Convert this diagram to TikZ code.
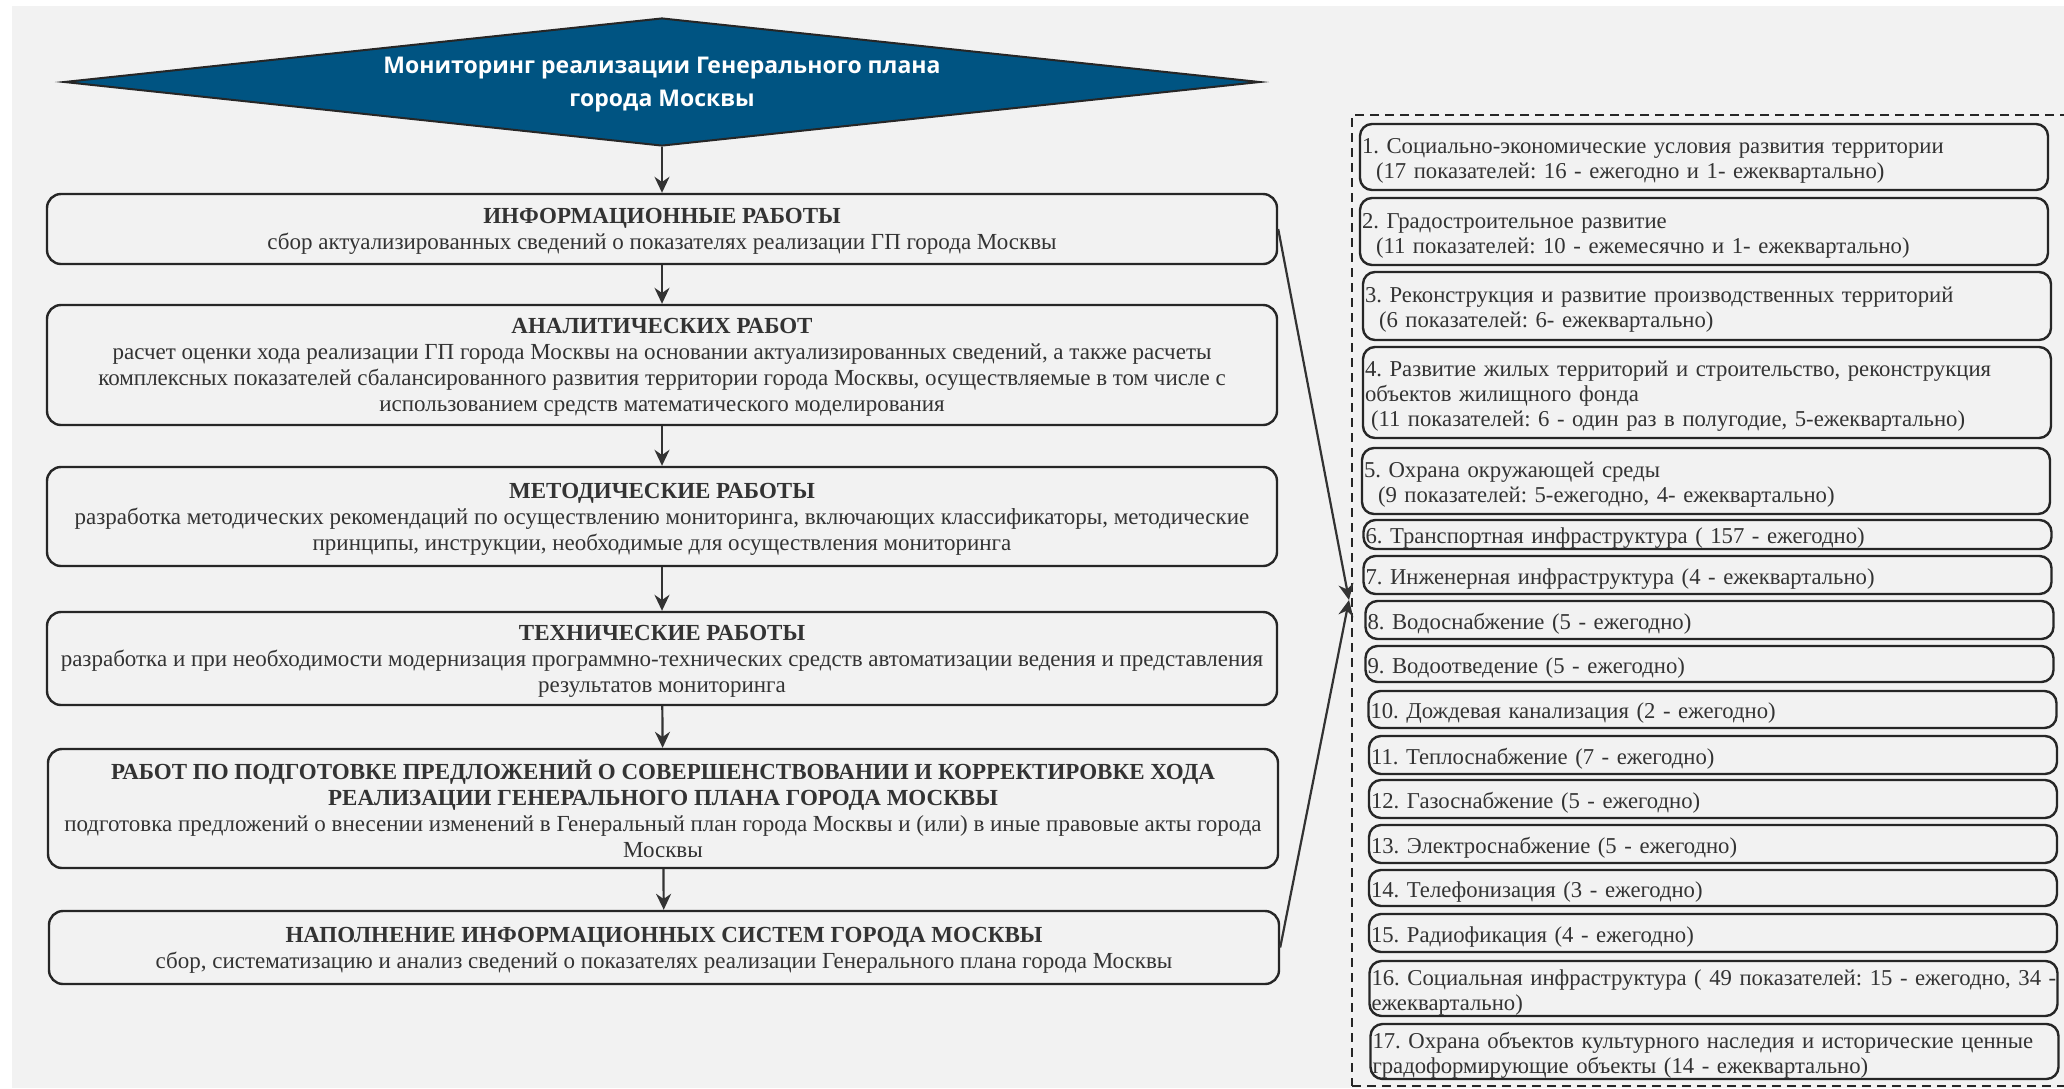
\documentclass[tikz,border=0pt]{standalone}
\usepackage{fontspec}
\setmainfont{Liberation Serif}
\newfontfamily\headfont{Open Sans}
\usetikzlibrary{shapes.geometric,arrows.meta}
\definecolor{paper}{RGB}{242,242,242}
\definecolor{ink}{RGB}{51,51,51}
\definecolor{edge}{RGB}{38,38,38}
\definecolor{headblue}{RGB}{0,84,130}
\frenchspacing

\begin{document}
\begin{tikzpicture}[x=1pt, y=-1pt,
    headshape/.style={diamond, aspect=9, draw=edge, line width=2pt, fill=headblue, text=white, align=center, minimum width=1196pt, minimum height=128pt, inner sep=0pt, text depth=-4pt, font=\headfont\bfseries\fontsize{23}{33}\selectfont},
    workbox/.style={rectangle, draw=edge, line width=2.4pt, fill=paper, rounded corners=14pt, text=ink, align=center, minimum width=1230pt, minimum height=#1, inner sep=0pt, text depth=-3pt, font=\fontsize{23}{26}\selectfont},
    itembox/.style={rectangle, draw=edge, line width=2.4pt, fill=paper, rounded corners=12pt, text=ink, align=left, text width=684pt, minimum height=#1, inner xsep=2pt, inner ysep=0pt, text height=23pt, font=\fontsize{22.7}{25}\selectfont},
    groupbox/.style={draw=edge, line width=2pt, dash pattern=on 9pt off 6pt, minimum width=728pt, minimum height=971pt},
    flow/.style={-{Stealth[length=16pt, width=15pt]}, draw=ink, line width=2.2pt}
]
    \clip (0,0) rectangle (2064,1088);
    \fill[white] (0,0) rectangle (2064,1088);
    \fill[paper] (12,6) rectangle (2064,1088);

    % left column
    \node[headshape] (mon) at (662,82) {Мониторинг реализации Генерального плана\\города Москвы};
    \node[workbox=70pt] (info) at (662,229) {\textbf{ИНФОРМАЦИОННЫЕ РАБОТЫ}\\сбор актуализированных сведений о показателях реализации ГП города Москвы};
    \node[workbox=120pt] (anal) at (662,365) {\textbf{АНАЛИТИЧЕСКИХ РАБОТ}\\расчет оценки хода реализации ГП города Москвы на основании актуализированных сведений, а также расчеты\\комплексных показателей сбалансированного развития территории города Москвы, осуществляемые в том числе с\\использованием средств математического моделирования};
    \node[workbox=99pt] (meth) at (662,516.5) {\textbf{МЕТОДИЧЕСКИЕ РАБОТЫ}\\разработка методических рекомендаций по осуществлению мониторинга, включающих классификаторы, методические\\принципы, инструкции, необходимые для осуществления мониторинга};
    \node[workbox=93pt] (tech) at (662,658.5) {\textbf{ТЕХНИЧЕСКИЕ РАБОТЫ}\\разработка и при необходимости модернизация программно-технических средств автоматизации ведения и представления\\результатов мониторинга};
    \node[workbox=119pt] (prop) at (663,808.5) {\textbf{РАБОТ ПО ПОДГОТОВКЕ ПРЕДЛОЖЕНИЙ О СОВЕРШЕНСТВОВАНИИ И КОРРЕКТИРОВКЕ ХОДА}\\\textbf{РЕАЛИЗАЦИИ ГЕНЕРАЛЬНОГО ПЛАНА ГОРОДА МОСКВЫ}\\подготовка предложений о внесении изменений в Генеральный план города Москвы и (или) в иные правовые акты города\\Москвы};
    \node[workbox=73pt] (isys) at (664,947.5) {\textbf{НАПОЛНЕНИЕ ИНФОРМАЦИОННЫХ СИСТЕМ ГОРОДА МОСКВЫ}\\сбор, систематизацию и анализ сведений о показателях реализации Генерального плана города Москвы};

    \draw[flow] (mon) -- (info);
    \draw[flow] (info) -- (anal);
    \draw[flow] (anal) -- (meth);
    \draw[flow] (meth) -- (tech);
    \draw[flow] (tech) -- (prop);
    \draw[flow] (prop) -- (isys);

    % right column: indicator groups
    \node[groupbox] (grp) at (1716,600.5) {};
    \node[itembox=66pt] (ind1) at (1704,157) {1. Социально-экономические условия развития территории\\\hspace*{14pt}(17 показателей: 16 - ежегодно и 1- ежеквартально)};
    \node[itembox=67pt] (ind2) at (1704,231.5) {2. Градостроительное развитие\\\hspace*{14pt}(11 показателей: 10 - ежемесячно и 1- ежеквартально)};
    \node[itembox=68pt] (ind3) at (1707,306) {3. Реконструкция и развитие производственных территорий\\\hspace*{14pt}(6 показателей: 6- ежеквартально)};
    \node[itembox=91pt] (ind4) at (1707,392.5) {4. Развитие жилых территорий и строительство, реконструкция\\объектов жилищного фонда\\\hspace*{6pt}(11 показателей: 6 - один раз в полугодие, 5-ежеквартально)};
    \node[itembox=66pt] (ind5) at (1706,481) {5. Охрана окружающей среды\\\hspace*{14pt}(9 показателей: 5-ежегодно, 4- ежеквартально)};
    \node[itembox=29pt] (ind6) at (1707.5,534.5) {6. Транспортная инфраструктура ( 157 - ежегодно)};
    \node[itembox=38pt] (ind7) at (1707.5,575) {7. Инженерная инфраструктура (4 - ежеквартально)};
    \node[itembox=38pt] (ind8) at (1709.5,620) {8. Водоснабжение (5 - ежегодно)};
    \node[itembox=36pt] (ind9) at (1709.5,664) {9. Водоотведение (5 - ежегодно)};
    \node[itembox=37pt] (ind10) at (1712.5,709.5) {10. Дождевая канализация (2 - ежегодно)};
    \node[itembox=38pt] (ind11) at (1713,755) {11. Теплоснабжение (7 - ежегодно)};
    \node[itembox=38pt] (ind12) at (1713,799) {12. Газоснабжение (5 - ежегодно)};
    \node[itembox=38pt] (ind13) at (1713,844) {13. Электроснабжение (5 - ежегодно)};
    \node[itembox=36pt] (ind14) at (1713,888) {14. Телефонизация (3 - ежегодно)};
    \node[itembox=38pt] (ind15) at (1713,933) {15. Радиофикация (4 - ежегодно)};
    \node[itembox=55pt] (ind16) at (1713.5,988.5) {\mbox{16. Социальная инфраструктура ( 49 показателей: 15 - ежегодно, 34 -}\\ежеквартально)};
    \node[itembox=55pt] (ind17) at (1714.5,1051.5) {17. Охрана объектов культурного наследия и исторические ценные\\градоформирующие объекты (14 - ежеквартально)};

    \coordinate (hub) at (1349,600);
    \draw[flow] (info.east) -- (hub);
    \draw[flow] (isys.east) -- (hub);
\end{tikzpicture}
\end{document}
